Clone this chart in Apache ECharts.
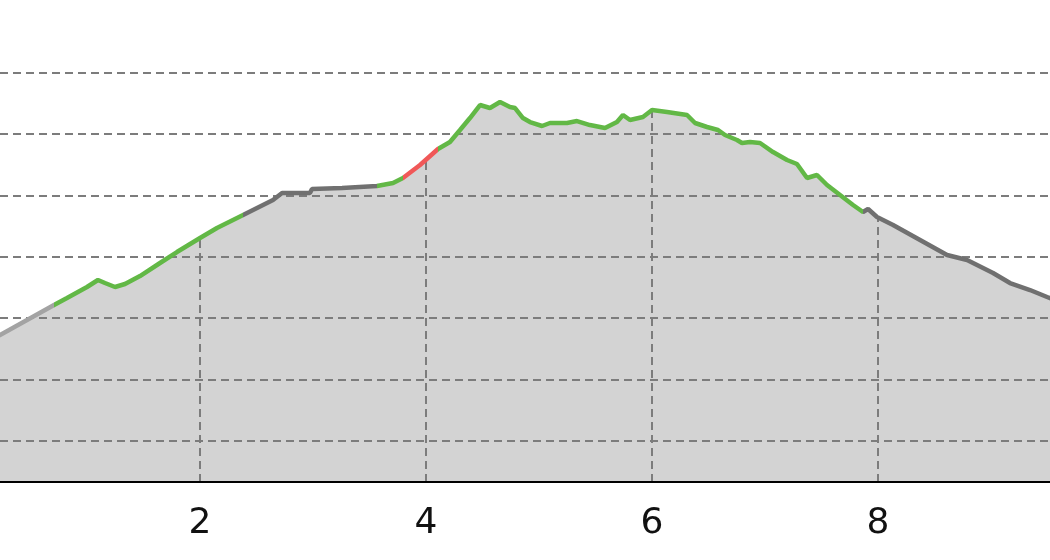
<!DOCTYPE html>
<html>
<head>
<meta charset="utf-8">
<script src="https://cdn.jsdelivr.net/npm/echarts@6/dist/echarts.min.js"></script>
<style>
  html, body { margin: 0; padding: 0; background: #ffffff; }
  #chart { width: 1050px; height: 560px; }
</style>
</head>
<body>
<div id="chart"></div>
<script>
// Distance along the route (km)
const distance = [
  0.000, 0.230, 0.708, 0.823, 1.000, 1.097, 1.159, 1.248, 1.336, 1.469,
  1.646, 1.796, 2.000, 2.150, 2.381, 2.646, 2.726, 2.973, 2.991, 3.257,
  3.265, 3.566, 3.708, 3.796, 3.947, 4.106, 4.212, 4.301, 4.389, 4.478,
  4.566, 4.655, 4.743, 4.788, 4.858, 4.920, 5.027, 5.097, 5.248, 5.336,
  5.451, 5.584, 5.690, 5.743, 5.805, 5.920, 6.000, 6.133, 6.310, 6.381,
  6.487, 6.584, 6.646, 6.752, 6.796, 6.867, 6.956, 7.071, 7.195, 7.283,
  7.372, 7.460, 7.549, 7.664, 7.779, 7.867, 7.912, 7.991, 8.133, 8.372,
  8.611, 8.788, 9.018, 9.168, 9.345, 9.496, 9.752
];
// Elevation (m)
const elevation = [
  249.9, 272.7, 321.6, 333.0, 350.9, 362.3, 357.4, 350.9, 355.8, 368.8,
  390.0, 407.9, 430.7, 447.0, 468.2, 492.6, 504.0, 504.0, 510.6, 512.2,
  513.8, 515.4, 520.3, 528.5, 549.7, 575.7, 587.1, 606.7, 626.2, 647.4,
  642.5, 652.3, 644.2, 642.5, 626.2, 619.7, 613.2, 618.1, 618.1, 621.3,
  614.8, 609.9, 619.7, 631.1, 623.0, 627.9, 639.3, 636.0, 631.1, 618.1,
  611.6, 606.7, 598.5, 590.4, 585.5, 587.1, 585.5, 570.8, 557.8, 551.3,
  528.5, 533.4, 517.1, 500.8, 484.5, 473.1, 478.0, 464.9, 451.9, 427.5,
  403.0, 394.9, 373.7, 357.4, 346.0, 334.6, 316.7
];
// Segment boundaries (km) and their colours
const segmentStart = [0.000, 0.708, 2.381, 3.566, 3.796, 4.106, 7.867];
const segmentEnd   = [0.708, 2.381, 3.566, 3.796, 4.106, 7.867, 99];
const segmentColor = ['#a3a3a3', '#62b846', '#707070', '#62b846', '#f05858', '#62b846', '#707070'];
// Axis ticks
const xTicks = [2, 4, 6, 8];
const yGridValues = [100, 200, 300, 400, 500, 600, 700];
const xMin = 0.230, xMax = 9.522;
const yMin = 33.2, yMax = 818.5;

const points = distance.map((d, i) => [d, elevation[i]]);

function elevAt(x) {
  for (let i = 1; i < distance.length; i++) {
    if (x <= distance[i]) {
      const t = (x - distance[i - 1]) / (distance[i] - distance[i - 1]);
      return elevation[i - 1] + t * (elevation[i] - elevation[i - 1]);
    }
  }
  return elevation[elevation.length - 1];
}

const gridLineStyle = { type: [8, 5], color: '#7c7c7c', width: 2 };

const chart = echarts.init(document.getElementById('chart'), null, { renderer: 'canvas' });
chart.setOption({
  animation: false,
  backgroundColor: '#ffffff',
  grid: { left: 0, right: 0, top: 0, bottom: 78, containLabel: false },
  xAxis: {
    type: 'value',
    min: xMin,
    max: xMax,
    z: 10,
    axisLine: { show: true, onZero: false, lineStyle: { color: '#000000', width: 2 } },
    axisTick: { show: false },
    splitLine: { show: false },
    axisLabel: {
      customValues: xTicks,
      fontSize: 36,
      fontFamily: 'DejaVu Sans',
      color: '#111111',
      margin: 24
    }
  },
  yAxis: {
    type: 'value',
    min: yMin,
    max: yMax,
    show: true,
    axisLine: { show: false },
    axisTick: { show: false },
    axisLabel: { show: false },
    splitLine: { show: false }
  },
  visualMap: {
    type: 'piecewise',
    show: false,
    dimension: 0,
    seriesIndex: 1,
    pieces: segmentStart.map((s, i) => ({ gte: s, lt: segmentEnd[i], color: segmentColor[i] }))
  },
  series: [
    {
      type: 'line',
      data: points,
      z: 1,
      symbol: 'none',
      silent: true,
      lineStyle: { width: 0, color: '#d3d3d3' },
      areaStyle: { color: '#d3d3d3', opacity: 1, origin: 'start' },
      markLine: {
        z: 5,
        silent: true,
        symbol: 'none',
        animation: false,
        label: { show: false },
        lineStyle: gridLineStyle,
        emphasis: { disabled: true },
        data: yGridValues.map(v => ({ yAxis: v })).concat(
          xTicks.map(x => [{ coord: [x, yMin] }, { coord: [x, elevAt(x)] }])
        )
      }
    },
    {
      type: 'line',
      data: points,
      z: 10,
      symbol: 'none',
      silent: true,
      lineStyle: { width: 4.5 }
    }
  ]
});
</script>
</body>
</html>
